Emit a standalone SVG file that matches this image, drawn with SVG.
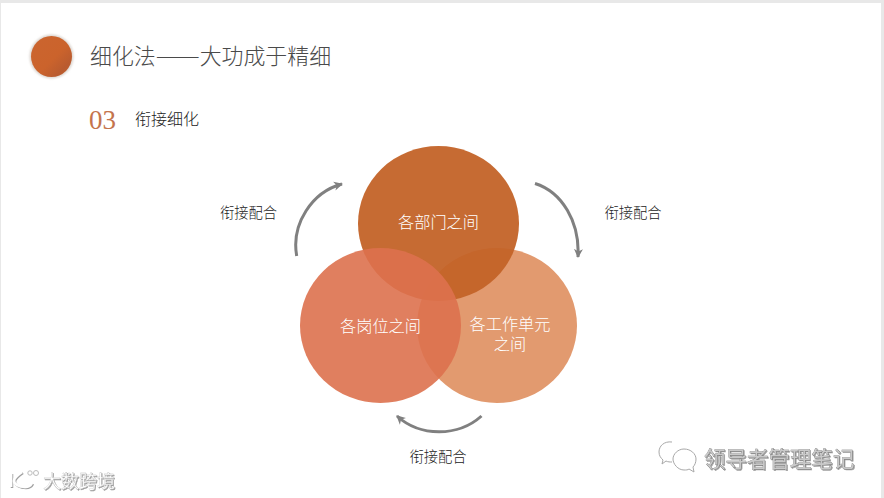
<svg xmlns="http://www.w3.org/2000/svg" width="884" height="498" viewBox="0 0 884 498">
<style>
.cjk{font-family:"Noto Sans CJK SC","Liberation Sans",sans-serif}
.lab{font-size:14.3px;fill:#222;text-anchor:middle;font-weight:300}
.node{font-size:16.2px;fill:#fff;text-anchor:middle;font-weight:300}
.arc{fill:none;stroke:#808080;stroke-width:3;marker-end:url(#ah)}
.wm{font-size:21.500px;fill:#c9c9c9;stroke:#666;stroke-width:.5;paint-order:stroke}
.ico{fill:#fff;stroke:#a8a8a8;stroke-width:1}
</style>
<defs>
<marker id="ah" markerUnits="userSpaceOnUse" markerWidth="12" markerHeight="12" refX="8" refY="5" orient="auto"><path d="M0 0.500L9 5L0 9.500L2.500 5Z" fill="#808080"/></marker>
<linearGradient id="ball" x1="0" y1="0" x2="1" y2="1"><stop offset="0" stop-color="#cb652f"/><stop offset=".55" stop-color="#cb632c"/><stop offset=".8" stop-color="#b95b2f"/><stop offset="1" stop-color="#c8632f"/></linearGradient>
<filter id="soft" x="-20%" y="-20%" width="140%" height="140%"><feGaussianBlur stdDeviation=".9"/></filter>
<filter id="halo" x="-10%" y="-30%" width="120%" height="160%"><feDropShadow dx="1" dy="1" stdDeviation=".5" flood-color="#777" flood-opacity=".7"/></filter>
</defs>
<rect width="884" height="498" fill="#fff"/>
<rect width="884" height="3" fill="#e8e8e8"/>
<rect width="1" height="498" fill="#e8e8e8"/>
<rect x="881" width="3" height="498" fill="#e8e8e8"/>
<g id="header">
<circle cx="51.500" cy="56.500" r="22" fill="#dcd6d0" filter="url(#soft)"/>
<circle cx="51.500" cy="56.500" r="20.500" fill="url(#ball)"/>
<text class="cjk" x="90" y="64" font-size="21.900" font-weight="300" fill="#4a4a4a">细化法<tspan textLength="44" lengthAdjust="spacingAndGlyphs">——</tspan>大功成于精细</text>
</g>
<g id="subtitle">
<text x="89" y="129" font-family="'Liberation Serif',serif" font-size="27" fill="#c4744d">03</text>
<text class="cjk" x="135" y="125" font-size="16" font-weight="300" fill="#222">衔接细化</text>
</g>
<g id="connectors">
<path class="arc" d="M296.700 256C291 224 312 192 342 184"/>
<path class="arc" d="M535 183.500C562 192 580 222 578 257"/>
<path class="arc" d="M481.500 416C458 437 420 437 397 416"/>
</g>
<g id="node-right"><ellipse cx="497" cy="325.500" rx="80" ry="77.500" fill="#e29a6f"/></g>
<g id="node-top"><ellipse cx="438.500" cy="223.500" rx="80.500" ry="77.500" fill="#c36227" fill-opacity=".945"/></g>
<g id="node-left"><ellipse cx="380.500" cy="325.500" rx="80.500" ry="77.500" fill="#dd714e" fill-opacity=".9"/></g>
<g id="labels-nodes">
<text class="cjk node" x="438.500" y="228">各部门之间</text>
<text class="cjk node" x="380.500" y="332">各岗位之间</text>
<text class="cjk node" x="510" y="330">各工作单元<tspan x="510" y="350">之间</tspan></text>
</g>
<g id="labels-connectors">
<text class="cjk lab" x="248.500" y="218">衔接配合</text>
<text class="cjk lab" x="633" y="218">衔接配合</text>
<text class="cjk lab" x="438" y="462">衔接配合</text>
</g>
<g id="watermark-right">
<path class="ico" d="M672 442c-8-1-13 4-13 10 0 4 2 6 4 8l-1 4 4-3c2 1 4 1 6 1"/>
<path class="ico" d="M684 449c-6 0-11 5-11 10s5 11 11 11c2 0 4 0 5-1l5 3-1-5c2-2 3-5 3-8 0-5-5-10-12-10z"/>
<text class="cjk wm" x="704" y="467" filter="url(#halo)">领导者管理笔记</text>
</g>
<g id="watermark-left">
<path d="M11 473v14M22 472c-6 4-8 7-8 9 0 3 5 6 11 6 4 0 6-2 7-4" fill="none" stroke="#fff" stroke-width="2.500" filter="url(#halo)"/>
<circle cx="30" cy="473" r="2.200" fill="none" stroke="#bbb"/><circle cx="36" cy="473" r="2.500" fill="none" stroke="#bbb"/>
<text class="cjk" x="43" y="488" font-size="18" fill="#fff" stroke="#bbb" stroke-width=".3" filter="url(#halo)">大数跨境</text>
</g>
</svg>
